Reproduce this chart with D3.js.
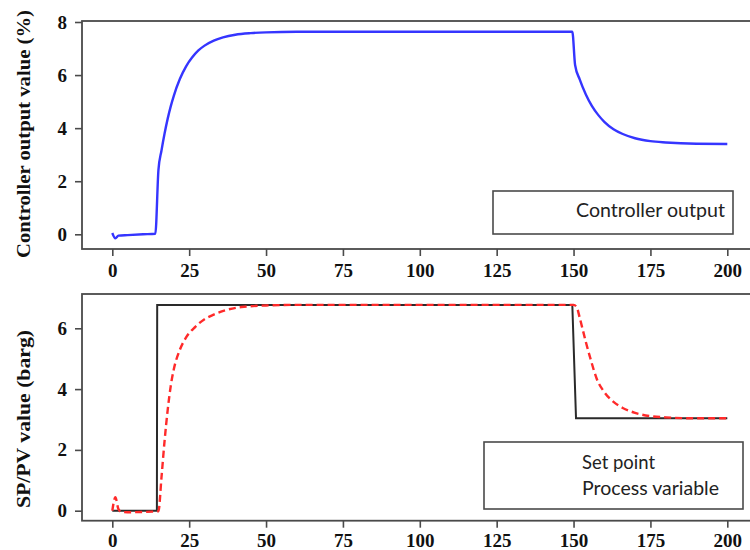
<!DOCTYPE html>
<html>
<head>
<meta charset="utf-8">
<script src="https://cdn.jsdelivr.net/npm/d3@7"></script>
<style>
  html, body { margin: 0; padding: 0; background: #fff; }
  svg { display: block; }
  .tick text { font-family: "Liberation Serif", "Times New Roman", serif; font-weight: bold; font-size: 19px; }
</style>
</head>
<body>
<svg id="chart" width="750" height="550"></svg>
<script>
// Time axis ticks (s) shared by both panels
const timeTicks = [0, 25, 50, 75, 100, 125, 150, 175, 200];
const outputTicks = [0, 2, 4, 6, 8];
const pressureTicks = [0, 2, 4, 6];

// Controller output (%)
const coTime  = [0, 1, 2, 5, 10, 14, 15, 16, 17, 18, 19, 20, 22, 24, 26, 28, 30, 33, 36, 40, 45, 50, 60,
                 149.6, 150.5, 152, 154, 156, 158, 160, 163, 166, 170, 175, 180, 190, 200];
const coValue = [0.05, -0.15, -0.05, -0.03, 0.0, 0.02, 2.42, 3.16, 3.80, 4.35, 4.82, 5.22, 5.86, 6.33, 6.67, 6.93, 7.11, 7.30, 7.42, 7.52, 7.58, 7.61, 7.63,
                 7.63, 6.38, 5.84, 5.27, 4.83, 4.50, 4.24, 3.96, 3.78, 3.62, 3.51, 3.46, 3.41, 3.40];

// Set point (barg)
const spTime  = [0, 14.5, 14.6, 149.6, 150.8, 200];
const spValue = [0, 0, 6.77, 6.77, 3.04, 3.04];

// Process variable (barg)
const pvTime  = [0, 1, 2, 3, 5, 10, 15, 16, 17, 18, 19, 20, 22, 24, 27, 30, 33, 37, 42, 50, 60,
                 150, 151, 152, 153, 154, 155.5, 157.5, 160, 163, 166, 170, 175, 180, 190, 200];
const pvValue = [0, 0.44, 0.05, -0.04, -0.05, -0.04, -0.02, 1.1, 2.3, 3.3, 4.1, 4.65, 5.3, 5.7, 6.05, 6.3, 6.45, 6.6, 6.7, 6.75, 6.77,
                 6.77, 6.7, 6.35, 5.95, 5.55, 5.0, 4.35, 3.9, 3.58, 3.38, 3.22, 3.11, 3.07, 3.04, 3.04];

const toPoints = (ts, vs) => ts.map((t, i) => ({ t, v: vs[i] }));

const svg = d3.select("#chart");
const serif = "Liberation Serif, Times New Roman, serif";
const sans = "Lato, Open Sans, sans-serif";
const frameColor = "#4a4a4a";
const intFmt = d3.format("d");

const x = d3.scaleLinear().domain([0, 200]).range([112.3, 727.3]);

function panel(opts) {
  const g = svg.append("g");
  const y = d3.scaleLinear().domain(opts.yDomain).range(opts.yRange);

  // plot frame (open past the right edge of the page)
  g.append("rect")
    .attr("x", 82).attr("y", opts.top)
    .attr("width", 700).attr("height", opts.bottom - opts.top)
    .attr("fill", "none").attr("stroke", frameColor).attr("stroke-width", 1.8);

  // x axis
  const xAxis = g.append("g")
    .attr("transform", `translate(0,${opts.bottom})`)
    .call(d3.axisBottom(x).tickValues(timeTicks).tickFormat(intFmt)
      .tickSize(7).tickPadding(opts.xPad));
  xAxis.attr("font-family", serif).attr("font-size", 19).attr("font-weight", "bold");
  xAxis.select(".domain").remove();
  xAxis.selectAll("line").attr("stroke", frameColor).attr("stroke-width", 1.6);
  xAxis.selectAll("text").attr("fill", "#111");

  // y axis
  const yAxis = g.append("g")
    .attr("transform", "translate(82,0)")
    .call(d3.axisLeft(y).tickValues(opts.yTicks).tickFormat(intFmt)
      .tickSize(7).tickPadding(8));
  yAxis.attr("font-family", serif).attr("font-size", 19).attr("font-weight", "bold");
  yAxis.select(".domain").remove();
  yAxis.selectAll("line").attr("stroke", frameColor).attr("stroke-width", 1.6);
  yAxis.selectAll("text").attr("fill", "#111");

  // y axis title
  g.append("text")
    .attr("transform", `translate(23,${opts.titleY}) rotate(-90)`)
    .attr("text-anchor", "middle").attr("dominant-baseline", "central")
    .attr("fill", "#111")
    .attr("font-family", serif).attr("font-weight", "bold").attr("font-size", 19)
    .attr("textLength", opts.titleLen).attr("lengthAdjust", "spacingAndGlyphs")
    .text(opts.title);

  // legend box
  g.append("rect")
    .attr("x", opts.legend.x).attr("y", opts.legend.y)
    .attr("width", opts.legend.w).attr("height", opts.legend.h)
    .attr("fill", "#fff").attr("stroke", frameColor).attr("stroke-width", 1.6);
  opts.legend.items.forEach(item => {
    g.append("text")
      .attr("x", item.x).attr("y", item.y)
      .attr("fill", "#222")
      .attr("font-family", sans).attr("font-size", 19)
      .attr("textLength", item.len).attr("lengthAdjust", "spacingAndGlyphs")
      .text(item.label);
  });

  return { g, y };
}

// Upper panel: controller output
const upper = panel({
  top: 21, bottom: 249, xPad: 8,
  yDomain: [0, 8], yRange: [234.3, 22], yTicks: outputTicks,
  title: "Controller output value (%)", titleY: 134, titleLen: 248,
  legend: { x: 493, y: 191, w: 240, h: 43,
            items: [{ label: "Controller output", x: 576, y: 217, len: 149 }] }
});

const coLine = d3.line().x(d => x(d.t)).y(d => upper.y(d.v)).curve(d3.curveMonotoneX);
upper.g.append("path")
  .datum(toPoints(coTime, coValue))
  .attr("d", coLine)
  .attr("fill", "none").attr("stroke", "#3535ff").attr("stroke-width", 2.4)
  .attr("stroke-linejoin", "round");

// Lower panel: set point and process variable
const lower = panel({
  top: 294, bottom: 520.7, xPad: 6,
  yDomain: [0, 6], yRange: [510.7, 328.3], yTicks: pressureTicks,
  title: "SP/PV value (barg)", titleY: 419, titleLen: 178,
  legend: { x: 484, y: 442, w: 259, h: 67,
            items: [{ label: "Set point", x: 582, y: 469, len: 73 },
                    { label: "Process variable", x: 582, y: 495, len: 137 }] }
});

const spLine = d3.line().x(d => x(d.t)).y(d => lower.y(d.v));
lower.g.append("path")
  .datum(toPoints(spTime, spValue))
  .attr("d", spLine)
  .attr("fill", "none").attr("stroke", "#2a2a2a").attr("stroke-width", 2);

const pvLine = d3.line().x(d => x(d.t)).y(d => lower.y(d.v)).curve(d3.curveMonotoneX);
lower.g.append("path")
  .datum(toPoints(pvTime, pvValue))
  .attr("d", pvLine)
  .attr("fill", "none").attr("stroke", "#ff2a2a").attr("stroke-width", 2.4)
  .attr("stroke-dasharray", "7,4");
</script>
</body>
</html>
